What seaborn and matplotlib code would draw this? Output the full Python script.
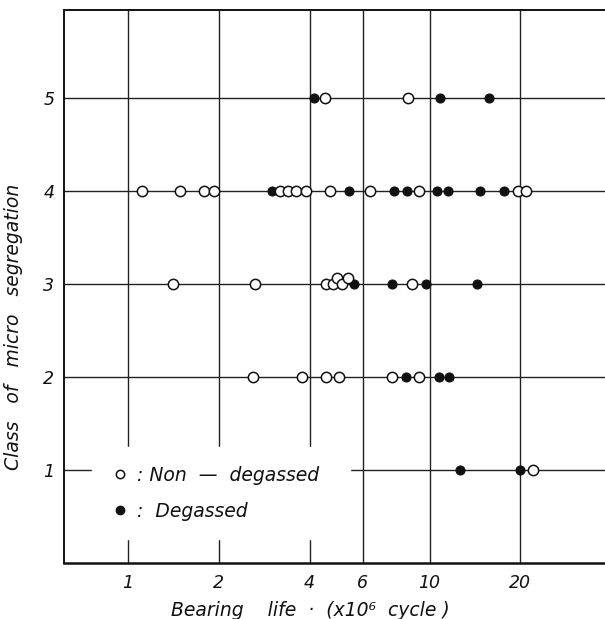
import pandas as pd
import matplotlib
matplotlib.use("Agg")
import matplotlib.pyplot as plt
import matplotlib.ticker as ticker
from matplotlib.lines import Line2D
import seaborn as sns

# Bearing life (x10^6 cycle), per class of micro segregation
non_degassed_life = [4.50, 8.50,
                     1.11, 1.49, 1.78, 1.93, 3.18, 3.39, 3.61, 3.89, 4.66, 6.35, 9.25, 19.7, 20.9,
                     1.41, 2.63, 4.54, 4.77, 4.95, 5.14, 5.35, 8.75,
                     2.59, 3.77, 4.54, 5.02, 7.49, 9.23,
                     22.0]
non_degassed_class = [5, 5,
                      4, 4, 4, 4, 4, 4, 4, 4, 4, 4, 4, 4, 4,
                      3, 3, 3, 3, 3.06, 3, 3.06, 3,
                      2, 2, 2, 2, 2, 2,
                      1]

degassed_life = [4.15, 10.8, 15.8,
                 3.00, 5.39, 7.62, 8.44, 10.6, 11.5, 14.7, 17.7,
                 5.63, 7.53, 9.75, 14.4,
                 8.36, 10.75, 11.6,
                 12.6, 19.9]
degassed_class = [5, 5, 5,
                  4, 4, 4, 4, 4, 4, 4, 4,
                  3, 3, 3, 3,
                  2, 2, 2,
                  1, 1]

x_ticks = [1, 2, 4, 6, 10, 20]
y_ticks = [1, 2, 3, 4, 5]

non_df = pd.DataFrame({"life": non_degassed_life, "cls": non_degassed_class})
deg_df = pd.DataFrame({"life": degassed_life, "cls": degassed_class})

sns.set_style("white")
plt.rcParams["font.family"] = ["DejaVu Sans"]
plt.rcParams["font.style"] = "italic"

fig = plt.figure(figsize=(6.05, 6.19), dpi=100)
ax = fig.add_axes([64 / 605, 56 / 619, 1 - 64 / 605, 553.5 / 619])

ink = "#111111"
ax.set_xscale("log")
ax.set_xlim(0.613, 38.2)
ax.set_ylim(0, 5.95)
ax.set_axisbelow(True)
ax.grid(True, color="#222222", linewidth=1.0)

sns.scatterplot(data=deg_df, x="life", y="cls", ax=ax, s=42, color=ink,
                edgecolor=ink, linewidth=0.8, zorder=3, legend=False)
sns.scatterplot(data=non_df, x="life", y="cls", ax=ax, s=55, facecolor="white",
                edgecolor=ink, linewidth=1.1, zorder=4, legend=False)

ax.xaxis.set_major_locator(ticker.FixedLocator(x_ticks))
ax.xaxis.set_minor_locator(ticker.NullLocator())
ax.xaxis.set_major_formatter(ticker.FixedFormatter([str(t) for t in x_ticks]))
ax.set_yticks(y_ticks)
ax.tick_params(axis="both", length=0, labelsize=12.5, colors=ink)
ax.tick_params(axis="x", pad=8)
ax.tick_params(axis="y", pad=7)

for side in ["left", "bottom", "top"]:
    ax.spines[side].set_color(ink)
    ax.spines[side].set_linewidth(1.4)
ax.spines["bottom"].set_linewidth(1.8)
ax.spines["right"].set_visible(False)

ax.set_xlabel("Bearing    life  ·  (x10⁶  cycle )", fontsize=13.5, color=ink)
ax.xaxis.set_label_coords(0.455, -0.068)
ax.set_ylabel("Class   of   micro   segregation", fontsize=13.5, color=ink)
ax.yaxis.set_label_coords(-0.076, 0.426)

handles = [
    Line2D([], [], linestyle="none", marker="o", markersize=6, markerfacecolor="white",
           markeredgecolor=ink, markeredgewidth=1.1),
    Line2D([], [], linestyle="none", marker="o", markersize=6, markerfacecolor=ink,
           markeredgecolor=ink),
]
leg = ax.legend(handles, [": Non  —  degassed  ", ":  Degassed"], loc="center left",
                bbox_to_anchor=(0.052, 0.126), frameon=True, fontsize=13.5,
                handlelength=1.0, handletextpad=0.4, labelspacing=0.9,
                borderpad=1.0, borderaxespad=0)
leg.get_frame().set_facecolor("white")
leg.get_frame().set_edgecolor("white")
leg.get_frame().set_alpha(1.0)
for t in leg.get_texts():
    t.set_color(ink)

fig.savefig("out.png", dpi=100, facecolor="white")
